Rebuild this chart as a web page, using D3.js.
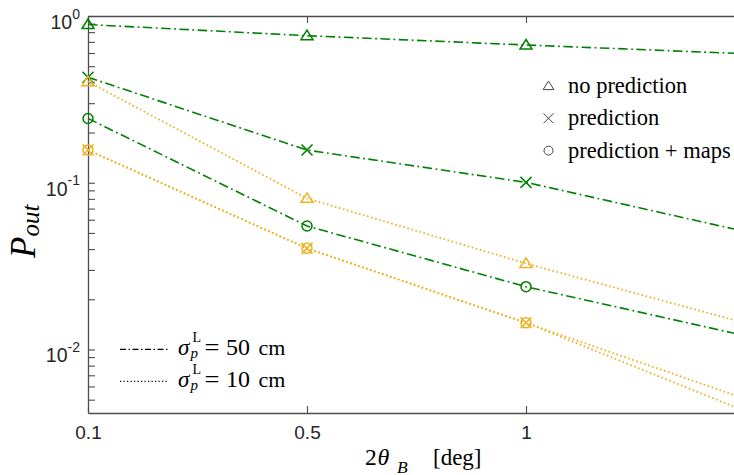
<!DOCTYPE html>
<html>
<head>
<meta charset="utf-8">
<script src="https://cdn.jsdelivr.net/npm/d3@7"></script>
<style>
  body { margin: 0; background: #fff; }
  svg { display: block; }
  .serif { font-family: "Liberation Serif", "Times New Roman", Times, "DejaVu Serif", serif; }
  .sans { font-family: "Liberation Sans", Arial, Helvetica, sans-serif; }
</style>
</head>
<body>
<script>
// Beam width categories (2θ_B in degrees); the last step lies just past the right edge
const xCats = ["0.1", "0.5", "1", "1.5"];
const xTickLabels = ["0.1", "0.5", "1"];
const yMajorTicks = [1, 0.1, 0.01];
const yTickExponents = ["0", "-1", "-2"];

// Outage probability, positioning error sigma = 50 cm
const noPred50   = [0.889, 0.762, 0.670, 0.594];
const pred50     = [0.429, 0.157, 0.1005, 0.0510];
const predMaps50 = [0.243, 0.055, 0.0238, 0.0121];

// Outage probability, positioning error sigma = 10 cm
const noPred10   = [0.404, 0.0806, 0.0328, 0.0144];
const pred10     = [0.157, 0.0404, 0.01445, 0.00506];
const predMaps10 = [0.157, 0.0404, 0.01445, 0.00427];

const schemeLabels = ["no prediction", "prediction", "prediction + maps"];
const sigmaLabels = ["50", "10"];

const W = 734, H = 475;
const plotLeft = 88, plotTop = 16, plotBottom = 413;

const GREEN = "#008000", ORANGE = "#EDB120";
const styles = [
  { color: GREEN,  width: 1.6, dash: "9.5,3.5,1.8,3.5" },
  { color: ORANGE, width: 1.8, dash: "1.6,2.6" }
];
const markers = ["tri", "x", "circ"];

const series = [
  { values: noPred50,   style: 0, marker: 0 },
  { values: pred50,     style: 0, marker: 1 },
  { values: predMaps50, style: 0, marker: 2 },
  { values: noPred10,   style: 1, marker: 0 },
  { values: pred10,     style: 1, marker: 1 },
  { values: predMaps10, style: 1, marker: 2 }
];

const svg = d3.select("body").append("svg")
  .attr("width", W).attr("height", H);

const x = d3.scalePoint().domain(xCats).range([plotLeft, 745]);
const y = d3.scaleLog().domain([Math.pow(10, -2.381), 1]).range([plotBottom, plotTop]);

svg.append("clipPath").attr("id", "plot-clip")
  .append("rect").attr("x", plotLeft).attr("y", plotTop)
  .attr("width", W - plotLeft).attr("height", plotBottom - plotTop);

// Marker shapes
function drawMarker(g, type, cx, cy, color, sw, s) {
  if (type === "tri") {
    g.append("path")
      .attr("d", `M${cx},${cy - 5.5 * s} L${cx + 6 * s},${cy + 4 * s} L${cx - 6 * s},${cy + 4 * s} Z`)
      .attr("fill", "none").attr("stroke", color).attr("stroke-width", sw)
      .attr("stroke-linejoin", "miter");
  } else if (type === "x") {
    const r = 5.5 * s;
    g.append("path")
      .attr("d", `M${cx - r},${cy - r} L${cx + r},${cy + r} M${cx - r},${cy + r} L${cx + r},${cy - r}`)
      .attr("fill", "none").attr("stroke", color).attr("stroke-width", sw);
  } else {
    g.append("circle").attr("cx", cx).attr("cy", cy).attr("r", 5 * s)
      .attr("fill", "none").attr("stroke", color).attr("stroke-width", sw);
  }
}

// Axes: left (log) with inward ticks
const minorTicks = [];
for (let e = -3; e <= 0; e++) {
  for (let k = 1; k <= 9; k++) {
    const v = k * Math.pow(10, e);
    if (v >= y.domain()[0] && v <= 1 + 1e-9) minorTicks.push(v);
  }
}
const AXIS = "#4d4d4d";
const yAxis = d3.axisLeft(y).tickValues(minorTicks).tickSizeInner(-7).tickSizeOuter(0).tickFormat("");
const gy = svg.append("g").attr("transform", `translate(${plotLeft},0)`).call(yAxis);
const xAxisB = d3.axisBottom(x).tickValues(xTickLabels).tickSizeInner(-7).tickSizeOuter(0).tickPadding(12.5);
const gxb = svg.append("g").attr("transform", `translate(0,${plotBottom})`).call(xAxisB);
const xAxisT = d3.axisTop(x).tickValues(xTickLabels).tickSizeInner(-7).tickSizeOuter(0).tickFormat("");
const gxt = svg.append("g").attr("transform", `translate(0,${plotTop})`).call(xAxisT);

[gy, gxb, gxt].forEach(g => {
  g.select(".domain").attr("stroke", AXIS).attr("stroke-width", 1.3);
  g.selectAll(".tick line").attr("stroke", AXIS).attr("stroke-width", 1.1);
});
gxb.attr("font-family", null);
gxb.selectAll(".tick text")
  .attr("class", "sans")
  .attr("font-size", 19).attr("fill", "#262626");

// Major y labels as 10^n
yMajorTicks.forEach((v, i) => {
  const t = svg.append("text")
    .attr("class", "sans")
    .attr("x", 80).attr("y", y(v) + 13)
    .attr("text-anchor", "end")
    .attr("fill", "#262626");
  t.append("tspan").attr("font-size", 19.5).text("10");
  t.append("tspan").attr("font-size", 14).attr("dy", -10.5).text(yTickExponents[i]);
});

// Curves
const line = d3.line().x((d, i) => x(xCats[i])).y(d => y(d));
const curves = svg.append("g").attr("clip-path", "url(#plot-clip)");
series.forEach(s => {
  const st = styles[s.style];
  curves.append("path").datum(s.values)
    .attr("d", line)
    .attr("fill", "none")
    .attr("stroke", st.color)
    .attr("stroke-width", st.width)
    .attr("stroke-dasharray", st.dash);
});

// Markers on each curve
const mg = svg.append("g");
series.forEach(s => {
  const st = styles[s.style];
  s.values.forEach((v, i) => {
    drawMarker(mg, markers[s.marker], x(xCats[i]), y(v), st.color, 1.5, 1);
  });
});

// Legend of schemes (marker symbols)
schemeLabels.forEach((lab, i) => {
  const ly = 86 + i * 32.3;
  drawMarker(svg, markers[i], 548.5, ly, "#444", 1, 0.9);
  svg.append("text").attr("class", "serif").attr("x", 568).attr("y", ly + 7)
    .attr("font-size", 22.5).attr("fill", "#000")
    .text(lab);
});

// Legend of positioning error (line styles)
const lineDash = ["6,2.5,1.5,2.5", "1.2,2.3"];
sigmaLabels.forEach((lab, i) => {
  const ly = 349.3 + i * 32;
  svg.append("line").attr("x1", 120).attr("x2", 168).attr("y1", ly).attr("y2", ly)
    .attr("stroke", "#000").attr("stroke-width", 1.2).attr("stroke-dasharray", lineDash[i]);
  const base = ly + 6;
  svg.append("text").attr("class", "serif").attr("x", 178).attr("y", base)
    .attr("font-style", "italic").attr("font-size", 23).text("σ");
  svg.append("text").attr("class", "serif").attr("x", 192.5).attr("y", base - 13)
    .attr("font-size", 14).text("L");
  svg.append("text").attr("class", "serif").attr("x", 190.5).attr("y", base + 2.5)
    .attr("font-style", "italic").attr("font-size", 15).text("p");
  svg.append("text").attr("class", "serif").attr("x", 204.5).attr("y", base)
    .attr("font-size", 24).attr("textLength", 15).attr("lengthAdjust", "spacingAndGlyphs").text("=");
  svg.append("text").attr("class", "serif").attr("x", 226).attr("y", base)
    .attr("font-size", 22.5).attr("textLength", 24).attr("lengthAdjust", "spacingAndGlyphs").text(lab);
  svg.append("text").attr("class", "serif").attr("x", 258.5).attr("y", base)
    .attr("font-size", 22).text("cm");
});

// Axis titles
const yl = svg.append("text")
  .attr("class", "serif")
  .attr("transform", "translate(35,258) rotate(-90)")
  .attr("font-style", "italic").attr("fill", "#000");
yl.append("tspan").attr("font-size", 35).text("P");
yl.append("tspan").attr("font-size", 25).attr("dy", 4).text("out");

svg.append("text").attr("class", "serif").attr("x", 365).attr("y", 465)
  .attr("font-size", 23.5).text("2");
svg.append("text").attr("class", "serif").attr("x", 377.5).attr("y", 465)
  .attr("font-style", "italic").attr("font-size", 24).text("θ");
svg.append("text").attr("class", "serif").attr("x", 397).attr("y", 472.5)
  .attr("font-style", "italic").attr("font-size", 17.5).text("B");
svg.append("text").attr("class", "serif").attr("x", 433).attr("y", 465)
  .attr("font-size", 23).text("[deg]");
</script>
</body>
</html>
